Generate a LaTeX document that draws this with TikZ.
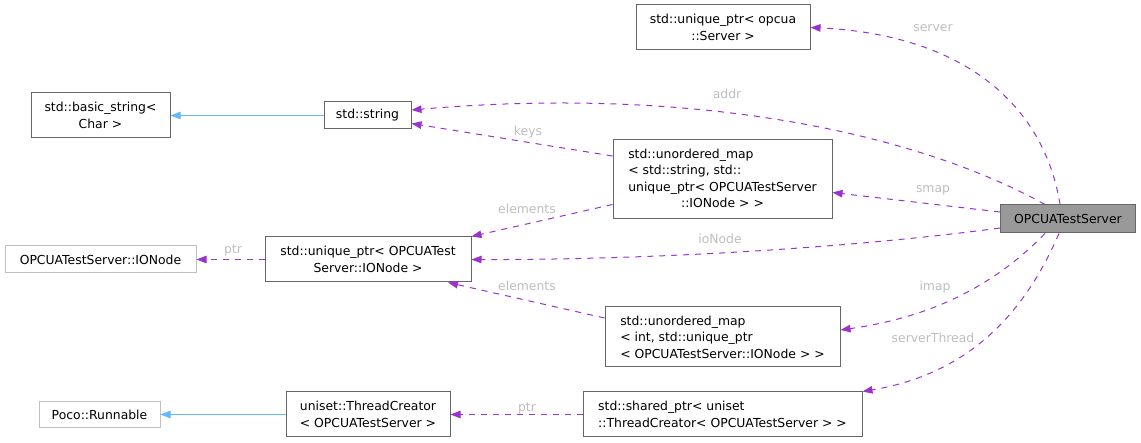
\documentclass[tikz,border=0pt]{standalone}
\usepackage{fontspec}
\setmainfont{DejaVu Sans}
\usetikzlibrary{arrows.meta}
\definecolor{edgep}{HTML}{9A32CD}
\definecolor{inhc}{HTML}{63B8FF}
\definecolor{bord}{HTML}{666666}
\definecolor{fadedc}{HTML}{BFBFBF}
\definecolor{mainfill}{HTML}{999999}
\definecolor{lblc}{HTML}{BEBEBE}
\newcommand{\dfont}{\fontsize{12.4}{16.5}\selectfont}
\tikzset{
  box/.style={draw=bord, line width=1pt, inner sep=0pt, font=\dfont, text=black},
  faded/.style={box, draw=fadedc},
  mainbox/.style={box, fill=mainfill},
  rel/.style={draw=edgep, line width=1pt, dash pattern=on 6pt off 6pt, -{Triangle[length=10pt,width=7.5pt]}},
  inh/.style={draw=inhc, line width=1pt, -{Triangle[length=10pt,width=7.5pt]}},
  lbl/.style={text=lblc, font=\dfont, inner sep=0pt},
}
\begin{document}
\begin{tikzpicture}[x=1pt,y=-1pt]
\useasboundingbox (0,0) rectangle (1141,443);
\renewcommand{\arraystretch}{1}
% nodes
\node[box, minimum width=174pt, minimum height=45pt, align=center] (server) at (723,27.5) {std::unique\_ptr< opcua\\::Server >};
\node[box, minimum width=139pt, minimum height=45pt, align=center] (bstring) at (100.5,115.5) {std::basic\_string<\\Char >};
\node[box, minimum width=87pt, minimum height=27pt] (string) at (367.5,115.5) {std::string};
\node[box, minimum width=219pt, minimum height=79pt] (smap) at (722.5,179.5) {\begin{tabular}{@{}l@{}}std::unordered\_map\\< std::string, std::\\unique\_ptr< OPCUATestServer\\\multicolumn{1}{@{}c@{}}{::IONode > >}\end{tabular}};
\node[mainbox, minimum width=135pt, minimum height=28pt] (ots) at (1068,219) {OPCUATestServer};
\node[faded, minimum width=191pt, minimum height=27pt] (ionode) at (100.5,259.5) {OPCUATestServer::IONode};
\node[box, minimum width=206pt, minimum height=45pt, align=center] (uptr) at (368,259.5) {std::unique\_ptr< OPCUATest\\Server::IONode >};
\node[box, minimum width=235pt, minimum height=60pt, align=left] (imap) at (722.5,337) {std::unordered\_map\\< int, std::unique\_ptr\\< OPCUATestServer::IONode > >};
\node[faded, minimum width=121pt, minimum height=26pt] (runnable) at (99.5,414.5) {Poco::Runnable};
\node[box, minimum width=164pt, minimum height=45pt, align=center] (tc) at (368,414.5) {uniset::ThreadCreator\\< OPCUATestServer >};
\node[box, minimum width=279pt, minimum height=45pt, align=left] (shared) at (722.5,414.5) {std::shared\_ptr< uniset\\::ThreadCreator< OPCUATestServer > >};
% inheritance
\draw[inh] (string.west) -- (bstring.east);
\draw[inh] (tc.west) -- (runnable.east);
% relations
\draw[rel] ([xshift=-8pt]ots.north) .. controls (1045,110) and (970,35) .. (server.east);
\draw[rel] ([xshift=-23pt]ots.north) .. controls (920,135) and (700,85) .. ([yshift=5.5pt]string.east);
\draw[rel] ([yshift=23.5pt]smap.west) -- ([yshift=-8pt]string.east);
\draw[rel] ([yshift=7pt]ots.west) -- ([yshift=-13pt]smap.east);
\draw[rel] ([yshift=-25pt]smap.west) -- (uptr.north east);
\draw[rel] ([yshift=-9pt]ots.west) .. controls (850,248) and (650,260) .. (uptr.east);
\draw[rel] (uptr.west) -- (ionode.east);
\draw[rel] ([yshift=19pt]imap.west) -- ([xshift=80pt]uptr.south);
\draw[rel] ([xshift=-23pt]ots.south) .. controls (990,290) and (925,318) .. ([yshift=7pt]imap.east);
\draw[rel] ([xshift=-9pt]ots.south) .. controls (1030,300) and (980,372) .. (shared.north east);
\draw[rel] (shared.west) -- (tc.east);
% labels
\node[lbl] (lserver) at (933,28) {server};
\node[lbl] (laddr) at (727,94) {addr};
\node[lbl] (lkeys) at (528,132) {keys};
\node[lbl] (lsmap) at (933,190) {smap};
\node[lbl] (lel1) at (527,209) {elements};
\node[lbl] (lio) at (720,239) {ioNode};
\node[lbl] (lptr1) at (233,250) {ptr};
\node[lbl] (lel2) at (527,286) {elements};
\node[lbl] (limap) at (935,287) {imap};
\node[lbl] (lst) at (933,338) {serverThread};
\node[lbl] (lptr2) at (527,408) {ptr};
\end{tikzpicture}
\end{document}
